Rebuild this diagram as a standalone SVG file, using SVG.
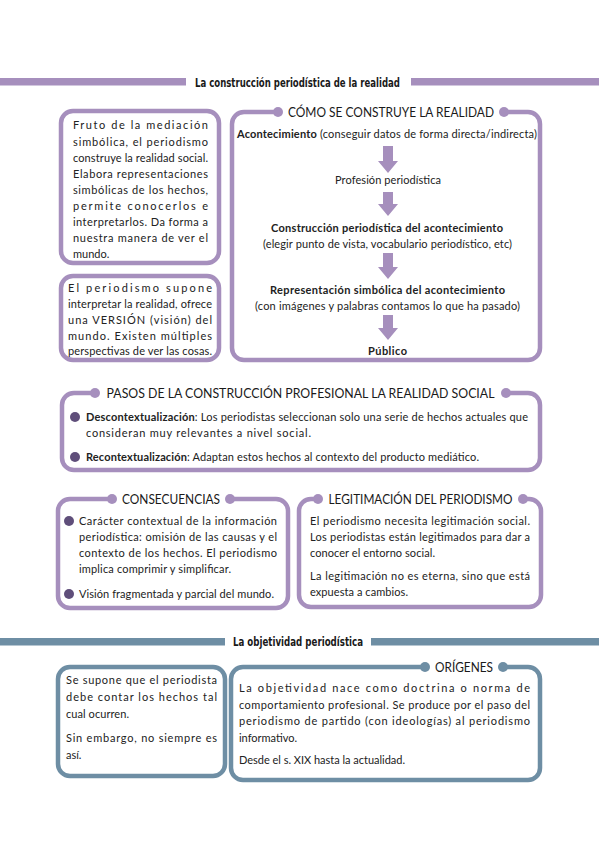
<svg xmlns="http://www.w3.org/2000/svg" width="599" height="848" viewBox="0 0 599 848">
<defs>
<style>
.bg{fill:#ffffff}
.p{fill:none;stroke:#a68fbd;stroke-width:4.5}
.b{fill:none;stroke:#6e8ea4;stroke-width:4.5}
.pd{fill:#a68fbd}
.bd{fill:#6e8ea4}
.bul{fill:#5f4e7a}
.t{font-family:Lato,"Open Sans","Liberation Sans",sans-serif;font-size:11px;fill:#222}
.bold{font-weight:bold}
.ttl{font-family:Lato,"Open Sans","Liberation Sans",sans-serif;font-size:12.5px;fill:#1a1a1a;text-anchor:middle}
.hdr{font-family:"DejaVu Sans","Liberation Sans",sans-serif;font-size:12.5px;font-weight:bold;fill:#1a1a1a;text-anchor:middle}
.c{text-anchor:middle}
.arr{fill:#a68fbd}
</style>
</defs>
<rect class="bg" x="0" y="0" width="599" height="848"/>

<g id="header1">
<rect class="pd" x="0" y="78" width="186" height="7.5"/>
<rect class="pd" x="411" y="78" width="188" height="7.5"/>
<text class="hdr" x="297.5" y="86.5" textLength="205" lengthAdjust="spacingAndGlyphs">La construcción periodística de la realidad</text>
</g>

<g id="box1">
<rect class="p" x="61" y="111" width="158" height="152" rx="12"/>
<text class="t" x="73" y="129" textLength="135" lengthAdjust="spacing">Fruto de la mediación</text>
<text class="t" x="73" y="145.5" textLength="135" lengthAdjust="spacing">simbólica, el periodismo</text>
<text class="t" x="73" y="161.5" textLength="135" lengthAdjust="spacing">construye la realidad social.</text>
<text class="t" x="73" y="178" textLength="135" lengthAdjust="spacing">Elabora representaciones</text>
<text class="t" x="73" y="194" textLength="135" lengthAdjust="spacing">simbólicas de los hechos,</text>
<text class="t" x="73" y="210" textLength="135" lengthAdjust="spacing">permite conocerlos e</text>
<text class="t" x="73" y="226" textLength="135" lengthAdjust="spacing">interpretarlos. Da forma a</text>
<text class="t" x="73" y="242" textLength="135" lengthAdjust="spacing">nuestra manera de ver el</text>
<text class="t" x="73" y="258">mundo.</text>
</g>

<g id="box2">
<rect class="p" x="61" y="276" width="158" height="84" rx="12"/>
<text class="t" x="68" y="292" textLength="144" lengthAdjust="spacing">El periodismo supone</text>
<text class="t" x="68" y="308" textLength="144" lengthAdjust="spacing">interpretar la realidad, ofrece</text>
<text class="t" x="68" y="324" textLength="144" lengthAdjust="spacing">una VERSIÓN (visión) del</text>
<text class="t" x="68" y="340" textLength="144" lengthAdjust="spacing">mundo. Existen múltiples</text>
<text class="t" x="68" y="355" textLength="144" lengthAdjust="spacing">perspectivas de ver las cosas.</text>
</g>

<g id="box3">
<path class="p" d="M504,112 H528 A12,12 0 0 1 540,124 V348 A12,12 0 0 1 528,360 H244 A12,12 0 0 1 232,348 V124 A12,12 0 0 1 244,112 H278"/>
<circle class="pd" cx="278" cy="112" r="5"/>
<circle class="pd" cx="504" cy="112" r="5"/>
<text class="ttl" x="391" y="116.5" textLength="206" lengthAdjust="spacingAndGlyphs">CÓMO SE CONSTRUYE LA REALIDAD</text>
<text class="t c" x="387" y="138" textLength="300" lengthAdjust="spacing"><tspan class="bold">Acontecimiento</tspan> (conseguir datos de forma directa/indirecta)</text>
<text class="t c" x="388" y="184" textLength="106" lengthAdjust="spacing">Profesión periodística</text>
<text class="t c bold" x="387" y="232" textLength="232" lengthAdjust="spacing">Construcción periodística del acontecimiento</text>
<text class="t c" x="387.5" y="248" textLength="249" lengthAdjust="spacing">(elegir punto de vista, vocabulario periodístico, etc)</text>
<text class="t c bold" x="387.5" y="294" textLength="235" lengthAdjust="spacing">Representación simbólica del acontecimiento</text>
<text class="t c" x="387.5" y="310" textLength="265" lengthAdjust="spacing">(con imágenes y palabras contamos lo que ha pasado)</text>
<text class="t c bold" x="387.5" y="355" textLength="39" lengthAdjust="spacing">Público</text>
</g>

<g id="connectors">
<path class="arr" d="M383,146 H393 V161 H398 L388,173 L378,161 H383 Z"/>
<path class="arr" d="M383,192 H393 V204 H398 L388,216 L378,204 H383 Z"/>
<path class="arr" d="M383,253 H393 V267 H398 L388,279 L378,267 H383 Z"/>
<path class="arr" d="M383,315 H393 V328 H398 L388,340 L378,328 H383 Z"/>
</g>

<g id="box4">
<path class="p" d="M506,393 H528 A12,12 0 0 1 540,405 V458 A12,12 0 0 1 528,470 H74 A12,12 0 0 1 62,458 V405 A12,12 0 0 1 74,393 H95"/>
<circle class="pd" cx="95" cy="393" r="5"/>
<circle class="pd" cx="506" cy="393" r="5"/>
<text class="ttl" x="300.5" y="397.5" textLength="388" lengthAdjust="spacingAndGlyphs">PASOS DE LA CONSTRUCCIÓN PROFESIONAL LA REALIDAD SOCIAL</text>
<circle class="bul" cx="75" cy="417" r="5"/>
<text class="t" x="86" y="420.5" textLength="442" lengthAdjust="spacing"><tspan class="bold">Descontextualización</tspan>: Los periodistas seleccionan solo una serie de hechos actuales que</text>
<text class="t" x="86" y="437" textLength="225" lengthAdjust="spacing">consideran muy relevantes a nivel social.</text>
<circle class="bul" cx="75" cy="457" r="5"/>
<text class="t" x="86" y="461" textLength="393" lengthAdjust="spacing"><tspan class="bold">Recontextualización</tspan>: Adaptan estos hechos al contexto del producto mediático.</text>
</g>

<g id="box5">
<path class="p" d="M230,499 H276 A12,12 0 0 1 288,511 V596 A12,12 0 0 1 276,608 H70 A12,12 0 0 1 58,596 V511 A12,12 0 0 1 70,499 H112"/>
<circle class="pd" cx="112" cy="499" r="5"/>
<circle class="pd" cx="230" cy="499" r="5"/>
<text class="ttl" x="171" y="503.5" textLength="98" lengthAdjust="spacingAndGlyphs">CONSECUENCIAS</text>
<circle class="bul" cx="69" cy="521" r="5"/>
<text class="t" x="79" y="525" textLength="198" lengthAdjust="spacing">Carácter contextual de la información</text>
<text class="t" x="79" y="541" textLength="198" lengthAdjust="spacing">periodística: omisión de las causas y el</text>
<text class="t" x="79" y="557" textLength="198" lengthAdjust="spacing">contexto de los hechos. El periodismo</text>
<text class="t" x="79" y="573" textLength="152" lengthAdjust="spacing">implica comprimir y simplificar.</text>
<circle class="bul" cx="69" cy="594" r="5"/>
<text class="t" x="79" y="598" textLength="195" lengthAdjust="spacing">Visión fragmentada y parcial del mundo.</text>
</g>

<g id="box6">
<path class="p" d="M523,499 H529 A12,12 0 0 1 541,511 V595 A12,12 0 0 1 529,607 H311 A12,12 0 0 1 299,595 V511 A12,12 0 0 1 311,499 H318"/>
<circle class="pd" cx="318" cy="499" r="5"/>
<circle class="pd" cx="523" cy="499" r="5"/>
<text class="ttl" x="420.5" y="503.5" textLength="184" lengthAdjust="spacingAndGlyphs">LEGITIMACIÓN DEL PERIODISMO</text>
<text class="t" x="310" y="525" textLength="220" lengthAdjust="spacing">El periodismo necesita legitimación social.</text>
<text class="t" x="310" y="541" textLength="220" lengthAdjust="spacing">Los periodistas están legitimados para dar a</text>
<text class="t" x="310" y="557" textLength="125" lengthAdjust="spacing">conocer el entorno social.</text>
<text class="t" x="310" y="580" textLength="220" lengthAdjust="spacing">La legitimación no es eterna, sino que está</text>
<text class="t" x="310" y="596" textLength="98" lengthAdjust="spacing">expuesta a cambios.</text>
</g>

<g id="header2">
<rect class="bd" x="0" y="638" width="225" height="7.5"/>
<rect class="bd" x="371" y="638" width="228" height="7.5"/>
<text class="hdr" x="298" y="646" textLength="130" lengthAdjust="spacingAndGlyphs">La objetividad periodística</text>
</g>

<g id="box7">
<rect class="b" x="58" y="667" width="167" height="109" rx="12"/>
<text class="t" x="66" y="684" textLength="151" lengthAdjust="spacing">Se supone que el periodista</text>
<text class="t" x="66" y="701" textLength="151" lengthAdjust="spacing">debe contar los hechos tal</text>
<text class="t" x="66" y="718" textLength="63" lengthAdjust="spacing">cual ocurren.</text>
<text class="t" x="66" y="742" textLength="151" lengthAdjust="spacing">Sin embargo, no siempre es</text>
<text class="t" x="66" y="759">así.</text>
</g>

<g id="box8">
<path class="b" d="M503,667 H528 A12,12 0 0 1 540,679 V768 A12,12 0 0 1 528,780 H243 A12,12 0 0 1 231,768 V679 A12,12 0 0 1 243,667 H425"/>
<circle class="bd" cx="425" cy="667" r="5"/>
<circle class="bd" cx="503" cy="667" r="5"/>
<text class="ttl" x="464" y="671.5" textLength="58" lengthAdjust="spacingAndGlyphs">ORÍGENES</text>
<text class="t" x="239" y="692" textLength="291" lengthAdjust="spacing">La objetividad nace como doctrina o norma de</text>
<text class="t" x="239" y="709" textLength="291" lengthAdjust="spacing">comportamiento profesional. Se produce por el paso del</text>
<text class="t" x="239" y="725" textLength="291" lengthAdjust="spacing">periodismo de partido (con ideologías) al periodismo</text>
<text class="t" x="239" y="742" textLength="58" lengthAdjust="spacing">informativo.</text>
<text class="t" x="239" y="764" textLength="166" lengthAdjust="spacing">Desde el s. XIX hasta la actualidad.</text>
</g>
</svg>
